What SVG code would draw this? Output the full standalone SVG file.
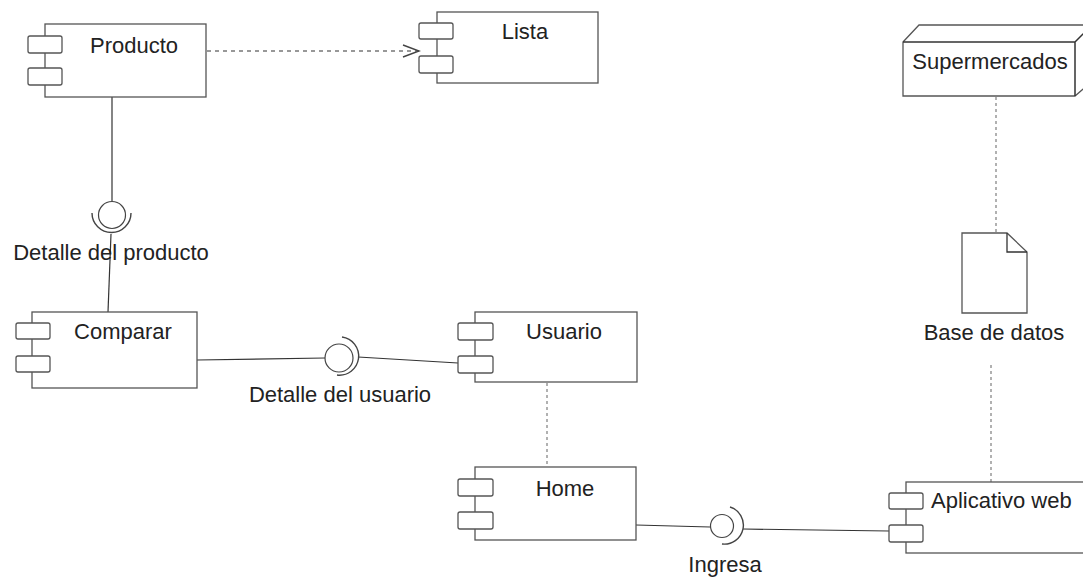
<svg xmlns="http://www.w3.org/2000/svg" width="1083" height="577" viewBox="0 0 1083 577">
  <style>
    .box { fill: #ffffff; stroke: #555555; stroke-width: 1.3; }
    .port { fill: #ffffff; stroke: #555555; stroke-width: 1.3; }
    .lbl { font-family: "Liberation Sans", Arial, sans-serif; font-size: 22px; fill: #222222; }
    .mid { text-anchor: middle; }
    .wire { fill: none; stroke: #333333; stroke-width: 1.2; }
    .dep { fill: none; stroke: #777777; stroke-width: 1.3; stroke-dasharray: 4 4; }
    .dot { fill: none; stroke: #888888; stroke-width: 1.3; stroke-dasharray: 3 3; }
    .ball { fill: #ffffff; stroke: #444444; stroke-width: 1.2; }
    .socket { fill: none; stroke: #444444; stroke-width: 1.4; }
  </style>
  <defs>
    <marker id="openArrow" viewBox="0 0 20 20" refX="18" refY="10" markerWidth="20" markerHeight="20" markerUnits="userSpaceOnUse" orient="auto">
      <path d="M2 4 L18 10 L2 16" fill="none" stroke="#444444" stroke-width="1.4"/>
    </marker>
  </defs>

  <rect width="1083" height="577" fill="#ffffff"/>

  <!-- connectors -->
  <g id="connectors">
    <!-- Producto depends on Lista -->
    <path class="dep" d="M207 51 L419 51" marker-end="url(#openArrow)"/>
    <!-- deployment / usage links -->
    <path class="dot" d="M996 97 L996 233"/>
    <path class="dot" d="M991 365 L991 482"/>
    <path class="dot" d="M547 383 L547 467"/>
    <!-- Producto - Comparar through "Detalle del producto" -->
    <path class="wire" d="M112 97 L112 201"/>
    <path class="wire" d="M111 234 L108 312"/>
    <!-- Comparar - Usuario through "Detalle del usuario" -->
    <path class="wire" d="M197 360 L325 358"/>
    <path class="wire" d="M358 357 L458 363"/>
    <!-- Home - Aplicativo web through "Ingresa" -->
    <path class="wire" d="M636 525 L710 527"/>
    <path class="wire" d="M743 529 L889 531"/>
  </g>

  <!-- components -->
  <g id="producto">
    <rect class="box" x="45" y="24" width="161" height="73"/>
    <rect class="port" x="28" y="36" width="34" height="17" rx="2"/>
    <rect class="port" x="28" y="68" width="34" height="17" rx="2"/>
    <text class="lbl mid" x="134" y="53">Producto</text>
  </g>

  <g id="lista">
    <rect class="box" x="437" y="12" width="161" height="71"/>
    <rect class="port" x="419" y="23" width="34" height="16" rx="2"/>
    <rect class="port" x="419" y="56" width="34" height="17" rx="2"/>
    <text class="lbl mid" x="525" y="39">Lista</text>
  </g>

  <g id="supermercados">
    <path class="box" d="M903 42 L919 25 L1095 25 L1095 79 L1075 96 L903 96 Z"/>
    <path fill="none" stroke="#333333" stroke-width="1.5" d="M903 42 L1075 42 L1075 96 M1075 42 L1092 25"/>
    <text class="lbl mid" x="990" y="69">Supermercados</text>
  </g>

  <g id="base-de-datos">
    <path class="box" d="M962 233 L1007 233 L1027 252 L1027 313 L962 313 Z"/>
    <path fill="none" stroke="#333333" stroke-width="1.3" d="M1007 233 L1007 252 L1027 252"/>
    <text class="lbl mid" x="994" y="340">Base de datos</text>
  </g>

  <g id="comparar">
    <rect class="box" x="32" y="312" width="165" height="76"/>
    <rect class="port" x="16" y="323" width="34" height="16" rx="2"/>
    <rect class="port" x="16" y="356" width="34" height="16" rx="2"/>
    <text class="lbl mid" x="123" y="339">Comparar</text>
  </g>

  <g id="usuario">
    <rect class="box" x="475" y="312" width="162" height="70"/>
    <rect class="port" x="458" y="323" width="35" height="17" rx="2"/>
    <rect class="port" x="458" y="356" width="35" height="17" rx="2"/>
    <text class="lbl mid" x="564" y="339">Usuario</text>
  </g>

  <g id="home">
    <rect class="box" x="475" y="467" width="161" height="73"/>
    <rect class="port" x="458" y="479" width="35" height="17" rx="2"/>
    <rect class="port" x="458" y="512" width="35" height="17" rx="2"/>
    <text class="lbl mid" x="565" y="496">Home</text>
  </g>

  <g id="aplicativo-web">
    <rect class="box" x="906" y="482" width="190" height="71"/>
    <rect class="port" x="889" y="493" width="34" height="16" rx="2"/>
    <rect class="port" x="889" y="525" width="34" height="17" rx="2"/>
    <text class="lbl" x="931" y="508">Aplicativo web</text>
  </g>

  <!-- provided / required interfaces -->
  <g id="detalle-producto">
    <circle class="ball" cx="112" cy="215" r="13.5"/>
    <path class="socket" d="M92 213 A19 19 0 1 0 131 213"/>
    <text class="lbl mid" x="111" y="260">Detalle del producto</text>
  </g>

  <g id="detalle-usuario">
    <circle class="ball" cx="339" cy="358" r="14"/>
    <path class="socket" d="M342 337 A19 19 0 0 1 337 375"/>
    <text class="lbl mid" x="340" y="402">Detalle del usuario</text>
  </g>

  <g id="ingresa">
    <circle class="ball" cx="722" cy="526" r="11.5"/>
    <path class="socket" d="M730 507 A19 19 0 0 1 722 544"/>
    <text class="lbl mid" x="725" y="572">Ingresa</text>
  </g>
</svg>
